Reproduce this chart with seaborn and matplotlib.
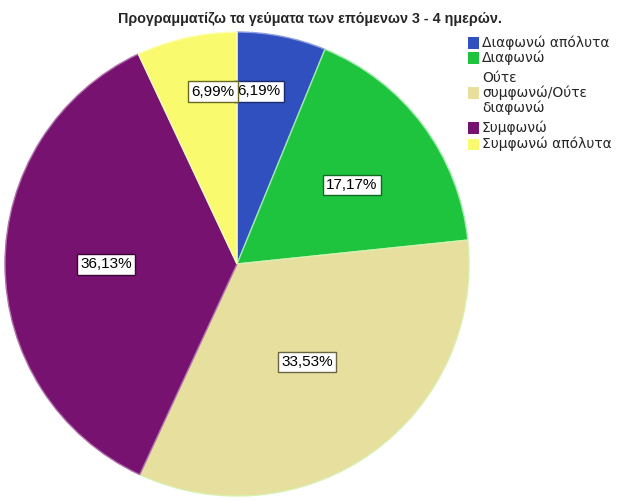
import numpy as np
import matplotlib
matplotlib.use("Agg")
import matplotlib.pyplot as plt
from matplotlib.patches import Rectangle
import seaborn as sns

categories = ["Διαφωνώ απόλυτα", "Διαφωνώ", "Ούτε\nσυμφωνώ/Ούτε\nδιαφωνώ", "Συμφωνώ", "Συμφωνώ απόλυτα"]
values = [6.19, 17.17, 33.53, 36.13, 6.99]
labels = ["6,19%", "17,17%", "33,53%", "36,13%", "6,99%"]
title = "Προγραμματίζω τα γεύματα των επόμενων 3 - 4 ημερών."

colors = ["#2F50BE", "#1EC43E", "#E6DF9E", "#781270", "#FAFA6E"]
edge_colors = ["#8FA0E0", "#9CEBA8", "#D8F0B0", "#B070AA", "#FFFFC0"]
box_edges = ["#1A2A70", "#0E6A20", "#6A6640", "#3A0636", "#6A6A20"]
label_r = [0.75, 0.60, 0.52, 0.565, 0.75]
label_dang = [3.8, -2.3, 0, 0, -4.7]
legend_y_px = [43, 58, 93, 128, 144]

sns.set_theme(style="white")
plt.rcParams['font.family'] = ['Liberation Sans', 'DejaVu Sans']

W, H = 626, 501
fig = plt.figure(figsize=(W / 100, H / 100), dpi=100)
ax = fig.add_axes([5/W, 5/H, 464/W, 464/H])

wedges, _ = ax.pie(values, colors=colors, startangle=90, counterclock=False,
                   wedgeprops=dict(linewidth=1.0), radius=1.0)
for w, ec in zip(wedges, edge_colors):
    w.set_edgecolor(ec)

for w, lab, r, da, bec in zip(wedges, labels, label_r, label_dang, box_edges):
    ang = np.deg2rad((w.theta1 + w.theta2) / 2 + da)
    ax.text(r * np.cos(ang), r * np.sin(ang), lab, ha="center", va="center",
            fontsize=11, color="black",
            bbox=dict(boxstyle="square,pad=0.22", facecolor="white", edgecolor=bec, linewidth=1))

ax.set_xlim(-1.0, 1.0)
ax.set_ylim(-1.0, 1.0)
ax.set_aspect("equal")
ax.axis("off")

fig.text(0.495, 1 - 19/H, title, ha="center", va="center", fontsize=10.3, fontweight="bold")

# legend built from the pie wedges' colours
for w, cat, ypx in zip(wedges, categories, legend_y_px):
    fig.patches.append(Rectangle((468/W, (H - ypx - 5.5)/H), 11/W, 11/H,
                                 transform=fig.transFigure, facecolor=w.get_facecolor(),
                                 edgecolor="none"))
    fig.text(482/W, 1 - ypx/H, cat, ha="left", va="center", family="DejaVu Sans",
             fontsize=10, linespacing=1.05)

fig.savefig("out.png", dpi=100, facecolor="white")
